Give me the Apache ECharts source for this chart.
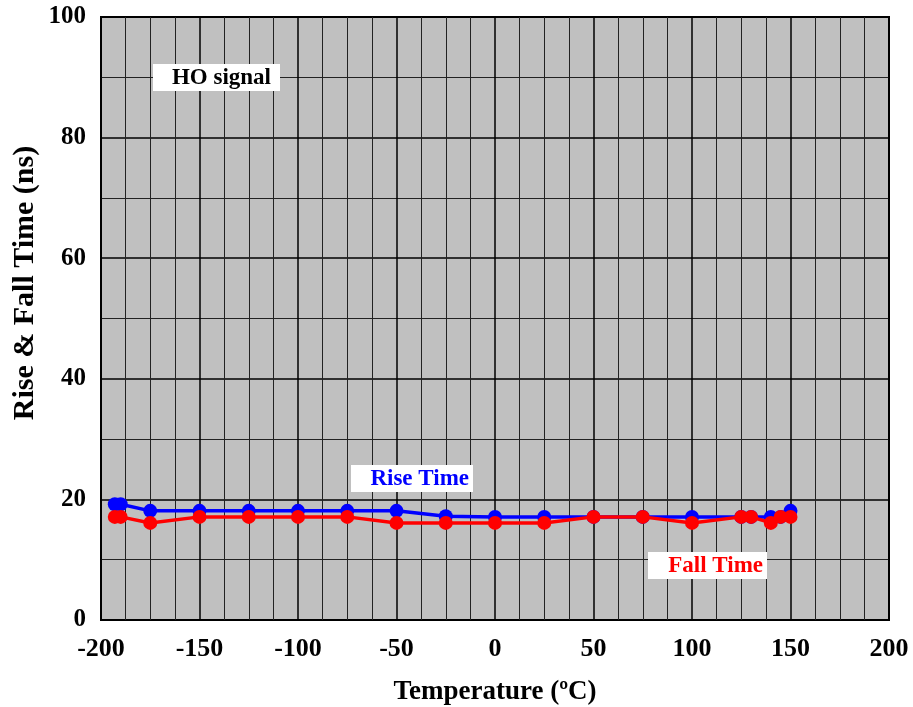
<!DOCTYPE html>
<html><head><meta charset="utf-8">
<script src="https://cdn.jsdelivr.net/npm/echarts@6/dist/echarts.min.js"></script>
<style>html,body{margin:0;padding:0;background:#fff}#c{width:913px;height:707px}</style>
</head><body><div id="c"></div>
<script>
const temps = [-193, -190, -175, -150, -125, -100, -75, -50, -25, 0, 25, 50, 75, 100, 125, 130, 140, 145, 150];
const riseTime = [19.2, 19.2, 18.1, 18.1, 18.1, 18.1, 18.1, 18.1, 17.2, 17.1, 17.1, 17.1, 17.1, 17.1, 17.1, 17.1, 17.1, 17.1, 18.1];
const fallTime = [17.1, 17.1, 16.1, 17.1, 17.1, 17.1, 17.1, 16.1, 16.1, 16.1, 16.1, 17.1, 17.1, 16.1, 17.1, 17.1, 16.1, 17.1, 17.1];
const xTicks = [-200, -150, -100, -50, 0, 50, 100, 150, 200];
const yTicks = [0, 20, 40, 60, 80, 100];

const font = '"Liberation Serif", "Times New Roman", serif';
const chart = echarts.init(document.getElementById('c'));
chart.setOption({
  animation: false,
  backgroundColor: '#fff',
  grid: { left: 101, right: 24, top: 17, bottom: 87, show: true, backgroundColor: '#c0c0c0', borderColor: '#000', borderWidth: 2,
    outerBoundsMode: 'none', containLabel: false },
  xAxis: {
    type: 'value', min: -200, max: 200, interval: 50,
    name: 'Temperature (ºC)', nameLocation: 'middle', nameGap: 59,
    nameTextStyle: { fontFamily: font, fontWeight: 'bold', fontSize: 27, color: '#000' },
    axisLine: { show: false }, axisTick: { show: false },
    axisLabel: { fontFamily: font, fontWeight: 'bold', fontSize: 26, color: '#000', margin: 16,
      formatter: v => xTicks.includes(v) ? String(v) : '' },
    splitLine: { show: true, lineStyle: { color: '#000', width: 1.5 } },
    minorTick: { show: false, splitNumber: 4 },
    minorSplitLine: { show: true, lineStyle: { color: '#222', width: 1 } }
  },
  yAxis: {
    type: 'value', min: 0, max: 100, interval: 20,
    axisLine: { show: false }, axisTick: { show: false },
    axisLabel: { fontFamily: font, fontWeight: 'bold', fontSize: 25, color: '#000', margin: 15,
      formatter: v => yTicks.includes(v) ? String(v) : '' },
    splitLine: { show: true, lineStyle: { color: '#000', width: 1.5 } },
    minorTick: { show: false, splitNumber: 2 },
    minorSplitLine: { show: true, lineStyle: { color: '#222', width: 1 } }
  },
  series: [
    { name: 'Rise Time', type: 'line', data: temps.map((t, i) => [t, riseTime[i]]),
      symbol: 'circle', symbolSize: 14, itemStyle: { color: '#0000ff' }, lineStyle: { color: '#0000ff', width: 3.5 }, z: 3 },
    { name: 'Fall Time', type: 'line', data: temps.map((t, i) => [t, fallTime[i]]),
      symbol: 'circle', symbolSize: 14, itemStyle: { color: '#ff0000' }, lineStyle: { color: '#ff0000', width: 3.5 }, z: 4 }
  ],
  graphic: [
    { type: 'text', x: 25, y: 283, rotation: Math.PI / 2,
      style: { text: 'Rise & Fall Time (ns)', fill: '#000', font: 'bold 30px ' + font, textAlign: 'center', textVerticalAlign: 'middle' }, z: 11 },
    { type: 'rect', shape: { x: 153, y: 64, width: 127, height: 27 }, style: { fill: '#fff' }, z: 10 },
    { type: 'text', x: 271, y: 78, style: { text: 'HO signal', fill: '#000', font: 'bold 23px ' + font, textAlign: 'right', textVerticalAlign: 'middle' }, z: 11 },
    { type: 'rect', shape: { x: 351, y: 465, width: 122, height: 27 }, style: { fill: '#fff' }, z: 10 },
    { type: 'text', x: 469, y: 479, style: { text: 'Rise Time', fill: '#0000ff', font: 'bold 23px ' + font, textAlign: 'right', textVerticalAlign: 'middle' }, z: 11 },
    { type: 'rect', shape: { x: 648, y: 552, width: 119, height: 27 }, style: { fill: '#fff' }, z: 10 },
    { type: 'text', x: 763, y: 566, style: { text: 'Fall Time', fill: '#ff0000', font: 'bold 23px ' + font, textAlign: 'right', textVerticalAlign: 'middle' }, z: 11 }
  ]
});
</script></body></html>
